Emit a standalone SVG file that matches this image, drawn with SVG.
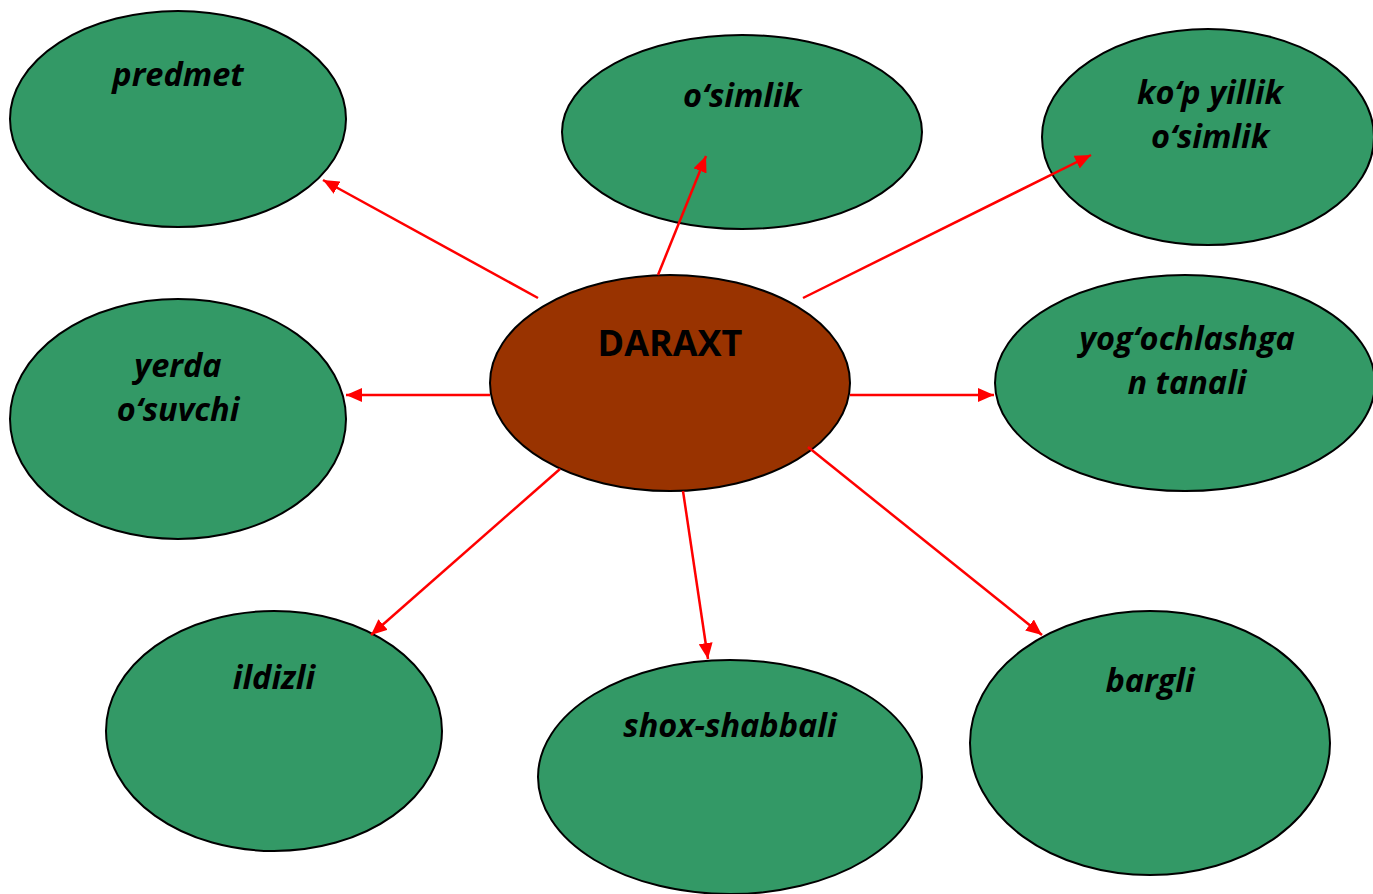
<svg xmlns="http://www.w3.org/2000/svg" width="1373" height="894" viewBox="0 0 1373 894">
<style>
.n{fill:#339966;stroke:#000;stroke-width:2}
.c{fill:#993300;stroke:#000;stroke-width:2}
.t{font-family:"Open Sans","Liberation Sans",sans-serif;font-weight:bold;font-style:italic;font-size:32.5px;fill:#000;text-anchor:middle}
.ct{font-family:"Open Sans","Liberation Sans",sans-serif;font-weight:bold;font-size:36px;fill:#000;text-anchor:middle}
.e{stroke:#ff0000;stroke-width:2.5;fill:none;marker-end:url(#ah)}
</style>
<defs>
<marker id="ah" markerUnits="userSpaceOnUse" markerWidth="18" markerHeight="14" refX="16" refY="7" orient="auto">
<path d="M0,0 L16,7 L0,14 Z" fill="#ff0000"/>
</marker>
</defs>
<rect width="1373" height="894" fill="#fff"/>
<g id="predmet"><ellipse class="n" cx="178" cy="119" rx="168" ry="108"/><text class="t" x="178" y="86">predmet</text></g>
<g id="osimlik"><ellipse class="n" cx="742" cy="132" rx="180" ry="97"/><text class="t" x="742" y="107">o‘simlik</text></g>
<g id="kopyillik"><ellipse class="n" cx="1208" cy="137" rx="166" ry="108"/><text class="t" x="1210" y="104">ko‘p yillik</text><text class="t" x="1210" y="148">o‘simlik</text></g>
<g id="yerda"><ellipse class="n" cx="178" cy="419" rx="168" ry="120"/><text class="t" x="178" y="377">yerda</text><text class="t" x="178" y="421">o‘suvchi</text></g>
<g id="yogoch"><ellipse class="n" cx="1185" cy="383" rx="190" ry="108"/><text class="t" x="1187" y="350">yog‘ochlashga</text><text class="t" x="1187" y="394">n tanali</text></g>
<g id="ildizli"><ellipse class="n" cx="274" cy="731" rx="168" ry="120"/><text class="t" x="274" y="689">ildizli</text></g>
<g id="shox"><ellipse class="n" cx="730" cy="777" rx="192" ry="117"/><text class="t" x="730" y="737">shox-shabbali</text></g>
<g id="bargli"><ellipse class="n" cx="1150" cy="743" rx="180" ry="132"/><text class="t" x="1150" y="692">bargli</text></g>
<g id="daraxt"><ellipse class="c" cx="670" cy="383" rx="180" ry="108"/><text class="ct" x="670" y="356">DARAXT</text></g>
<g id="connectors">
<line class="e" x1="538" y1="298" x2="323" y2="180"/>
<line class="e" x1="658" y1="275" x2="706" y2="156"/>
<line class="e" x1="803" y1="298" x2="1091" y2="155"/>
<line class="e" x1="490" y1="395" x2="346" y2="395"/>
<line class="e" x1="850" y1="395" x2="994" y2="395"/>
<line class="e" x1="560" y1="469" x2="371" y2="635"/>
<line class="e" x1="683" y1="491" x2="708" y2="659"/>
<line class="e" x1="808" y1="447" x2="1042" y2="635"/>
</g>
</svg>
